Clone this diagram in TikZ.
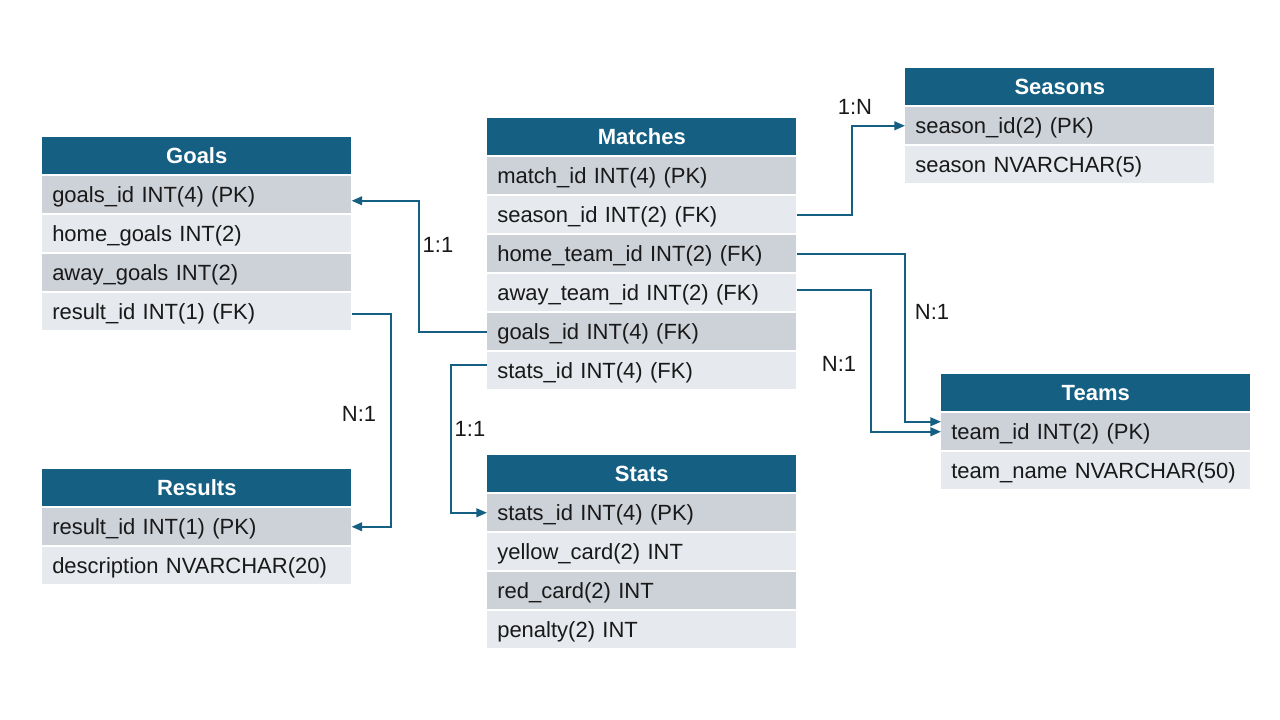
\documentclass[tikz,border=0pt]{standalone}
\usepackage{fontspec}
\setmainfont{Liberation Sans}
\usetikzlibrary{arrows.meta,calc}
\definecolor{hdrc}{HTML}{155F82}
\definecolor{rowa}{HTML}{CDD1D8}
\definecolor{rowb}{HTML}{E6E9ED}
\tikzset{
  cell/.style={anchor=north west, inner xsep=7.5pt, inner ysep=0pt,
    text width=216.75pt, minimum height=27.75pt, align=left,
    text height=11.5pt, text depth=0pt,
    font=\fontsize{16.5}{18}\selectfont, text=black!90},
  hdr/.style={cell, fill=hdrc, text=white, align=center, font=\fontsize{16.5}{18}\selectfont\bfseries},
  ra/.style={cell, fill=rowa},
  rb/.style={cell, fill=rowb},
  conn/.style={draw=hdrc, line width=1.5pt, -{Triangle[length=8pt,width=6.5pt]}},
  rel/.style={font=\fontsize{16.5}{18}\selectfont, text=black!90, inner sep=0pt}
}
\begin{document}
\begin{tikzpicture}[x=0.75pt,y=-0.75pt]
\useasboundingbox (0,0) rectangle (1280,720);
% Goals
\node[hdr] (gh) at (42,137) {Goals};
\node[ra] (g1) at (42,176) {goals\_id INT(4) (PK)};
\node[rb] (g2) at (42,215) {home\_goals INT(2)};
\node[ra] (g3) at (42,254) {away\_goals INT(2)};
\node[rb] (g4) at (42,293) {result\_id INT(1) (FK)};
% Results
\node[hdr] (rh) at (42,469) {Results};
\node[ra] (r1) at (42,508) {result\_id INT(1) (PK)};
\node[rb] (r2) at (42,547) {description NVARCHAR(20)};
% Matches
\node[hdr] (mh) at (487,118) {Matches};
\node[ra] (m1) at (487,157) {match\_id INT(4) (PK)};
\node[rb] (m2) at (487,196) {season\_id INT(2) (FK)};
\node[ra] (m3) at (487,235) {home\_team\_id INT(2) (FK)};
\node[rb] (m4) at (487,274) {away\_team\_id INT(2) (FK)};
\node[ra] (m5) at (487,313) {goals\_id INT(4) (FK)};
\node[rb] (m6) at (487,352) {stats\_id INT(4) (FK)};
% Stats
\node[hdr] (sh) at (487,455) {Stats};
\node[ra] (st1) at (487,494) {stats\_id INT(4) (PK)};
\node[rb] (st2) at (487,533) {yellow\_card(2) INT};
\node[ra] (st3) at (487,572) {red\_card(2) INT};
\node[rb] (st4) at (487,611) {penalty(2) INT};
% Seasons
\node[hdr] (seh) at (905,68) {Seasons};
\node[ra] (se1) at (905,107) {season\_id(2) (PK)};
\node[rb] (se2) at (905,146) {season NVARCHAR(5)};
% Teams
\node[hdr] (th) at (941,374) {Teams};
\node[ra] (t1) at (941,413) {team\_id INT(2) (PK)};
\node[rb] (t2) at (941,452) {team\_name NVARCHAR(50)};
% connectors
\draw[conn] (m5.west) -- ++(-68,0) |- ([yshift=-4.5pt]g1.east);
\draw[conn] (m2.east) -- ++(55,0) |- (se1.west);
\draw[conn] (m3.east) -- ++(108,0) |- ([yshift=7.5pt]t1.west);
\draw[conn] ([yshift=2pt]m4.east) -- ++(74,0) |- (t1.west);
\draw[conn] ([yshift=4pt]m6.west) -- ++(-36,0) |- (st1.west);
\draw[conn] ([yshift=-2pt]g4.east) -- ++(39,0) |- (r1.east);
% labels
\node[rel] (l1) at (438,245) {1:1};
\node[rel] (l2) at (855,107) {1:N};
\node[rel] (l3) at (932,312) {N:1};
\node[rel] (l4) at (839,364) {N:1};
\node[rel] (l5) at (470,429) {1:1};
\node[rel] (l6) at (359,414) {N:1};
\end{tikzpicture}
\end{document}
